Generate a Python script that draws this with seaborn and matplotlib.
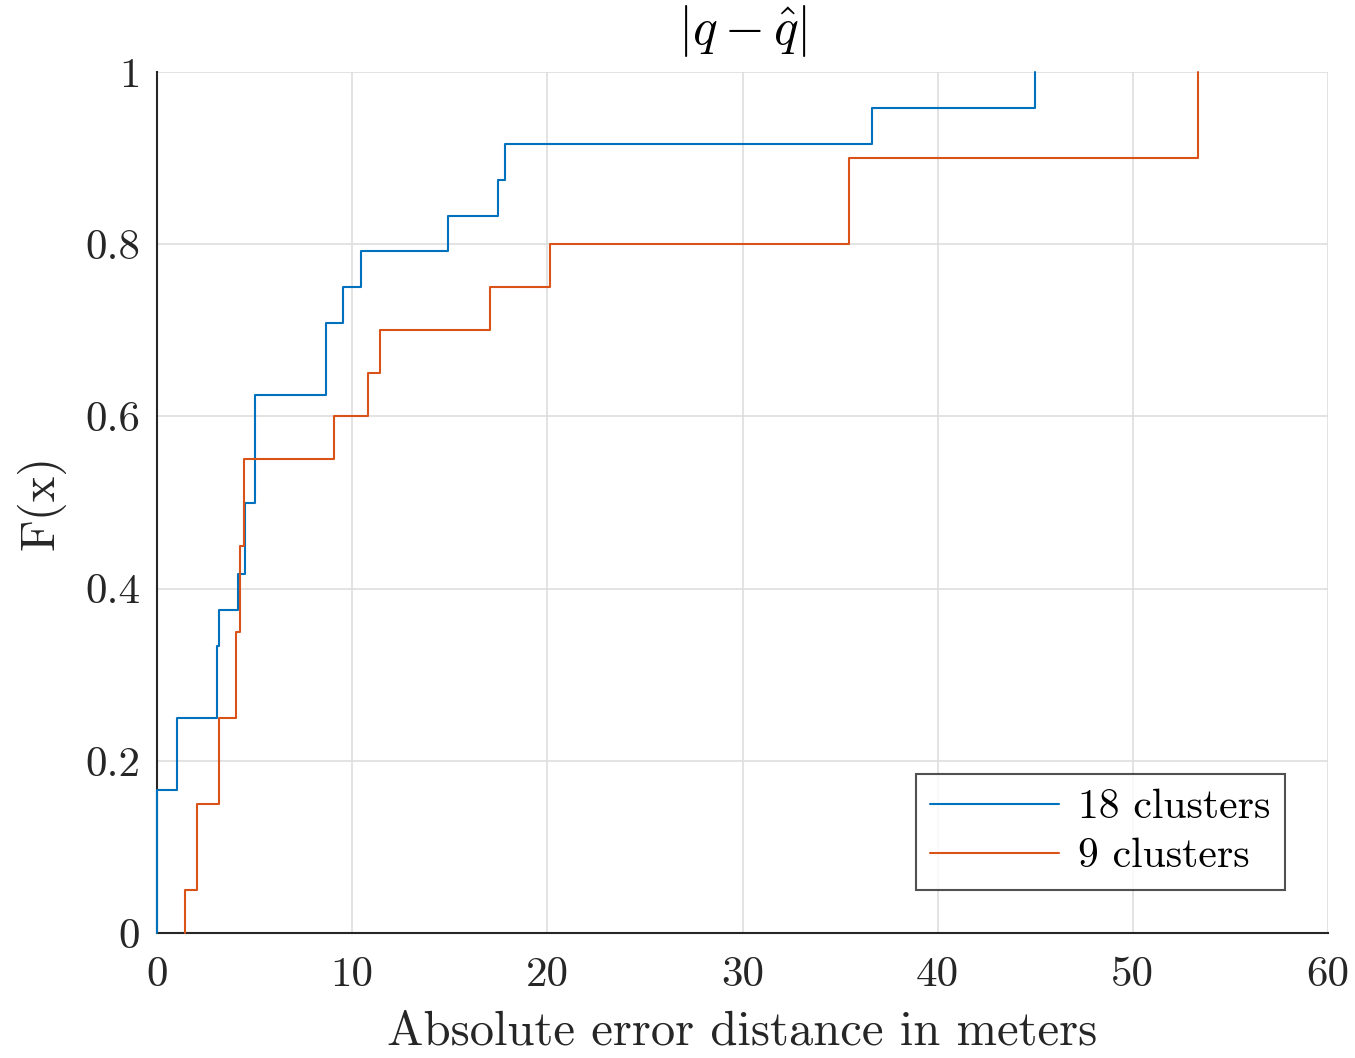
import numpy as np
import pandas as pd
import matplotlib
matplotlib.use("Agg")
import matplotlib.pyplot as plt
import seaborn as sns

# Absolute error distances (meters) for each cluster configuration
errors_18 = [0.0, 0.0, 0.0, 0.0, 1.03, 1.03, 3.05, 3.05, 3.19, 4.17, 4.49, 4.49,
             5.03, 5.03, 5.03, 8.64, 8.64, 9.51, 10.45, 14.89, 17.49, 17.83,
             36.62, 45.0]
errors_9 = [1.45, 2.03, 2.03, 3.18, 3.18, 4.06, 4.06, 4.26, 4.26, 4.48, 4.48,
            9.08, 10.8, 11.42, 17.06, 20.12, 35.46, 35.46, 53.33, 53.33]
series_labels = ["18 clusters", "9 clusters"]
series_colors = ["#0072BD", "#D95319"]

x_ticks = [0, 10, 20, 30, 40, 50, 60]
x_tick_labels = ["0", "10", "20", "30", "40", "50", "60"]
y_ticks = [0, 0.2, 0.4, 0.6, 0.8, 1.0]
y_tick_labels = ["0", "0.2", "0.4", "0.6", "0.8", "1"]

sns.set_style("white")
plt.rcParams["font.family"] = ["cmr10", "DejaVu Serif"]
plt.rcParams["mathtext.fontset"] = "cm"
plt.rcParams["axes.formatter.use_mathtext"] = True

fig = plt.figure(figsize=(13.55, 10.58), dpi=100)
ax = fig.add_axes([157 / 1355, 1 - 933 / 1058, (1328 - 157) / 1355, (933 - 72) / 1058])

for vals, lab, col in zip([errors_18, errors_9], series_labels, series_colors):
    sns.ecdfplot(x=np.asarray(vals), ax=ax, color=col, linewidth=1.5,
                 label=lab, zorder=3, clip_on=False)

ax.set_xlim(0, 60)
ax.set_ylim(0, 1)
ax.set_xticks(x_ticks)
ax.set_xticklabels(x_tick_labels)
ax.set_yticks(y_ticks)
ax.set_yticklabels(y_tick_labels)

text_col = "#262626"
ax.grid(True, color="#dedede", linewidth=1.2)
ax.set_axisbelow(True)
for side in ["top", "right"]:
    ax.spines[side].set_visible(False)
for side in ["left", "bottom"]:
    ax.spines[side].set_color(text_col)
    ax.spines[side].set_linewidth(1.5)

ax.tick_params(axis="both", direction="in", length=9, width=1.5, color=text_col,
               labelsize=31, labelcolor=text_col)
ax.tick_params(axis="x", pad=17)
ax.tick_params(axis="y", pad=12)

ax.set_xlabel("Absolute error distance in meters", fontsize=35, color=text_col,
              labelpad=12)
ax.set_ylabel("F(x)", fontsize=35, color=text_col, labelpad=14)
ax.set_title(r"$|q - \hat{q}|$", fontsize=37, color="black", pad=20)

leg = ax.legend(loc="lower right", bbox_to_anchor=(0.9633, 0.0499),
                borderaxespad=0, fontsize=30, frameon=True, fancybox=False,
                handlelength=3.1, handletextpad=0.45, labelspacing=0.28,
                borderpad=0.35)
leg.get_frame().set_edgecolor(text_col)
leg.get_frame().set_linewidth(1.5)
for t in leg.get_texts():
    t.set_color("black")

fig.savefig("out.png", dpi=100, facecolor="white")
